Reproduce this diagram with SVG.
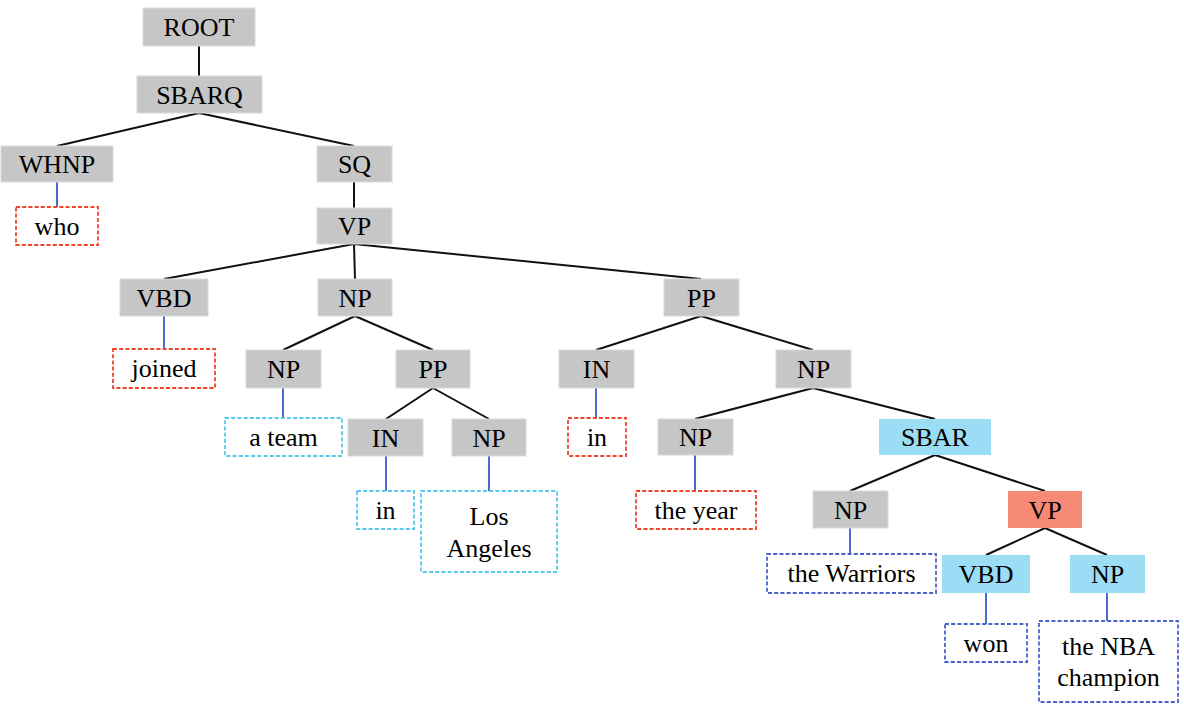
<svg xmlns="http://www.w3.org/2000/svg" width="1184" height="708" viewBox="0 0 1184 708">
<rect width="1184" height="708" fill="#fff"/>
<g id="connectors">
<path stroke="#111" stroke-width="2" fill="none" d="M199 46V76M199 113L57 146M199 113L354 146M354 182V208M354 244L164 279M354 244L355 279M354 244L701 279M355 316L283 350M355 316L433 350M433 388L386 419M433 388L489 419M701 316L596 350M701 316L813 350M813 388L695 419M813 388L935 419M935 455L850 491M935 455L1045 491M1045 528L986 555M1045 528L1107 555"/>
<path stroke="#4A6BD0" stroke-width="2" fill="none" d="M57 182V207M164 316V349M283 388V418M386 456V491M489 456V491M596 388V418M695 455V491M850 528V554M986 593V624M1107 593V621"/>
</g>
<g fill="#C6C6C6" stroke="#DADADA" stroke-width="1">
<rect id="n-root" x="143" y="8" width="112" height="38"/>
<rect id="n-sbarq" x="137" y="76" width="125" height="37"/>
<rect id="n-whnp" x="1" y="146" width="112" height="36"/>
<rect id="n-sq" x="317" y="146" width="75" height="36"/>
<rect id="n-vp" x="317" y="208" width="75" height="36"/>
<rect id="n-vbd" x="120" y="279" width="88" height="37"/>
<rect id="n-np1" x="318" y="279" width="74" height="37"/>
<rect id="n-pp1" x="664" y="279" width="75" height="37"/>
<rect id="n-np2" x="246" y="350" width="75" height="38"/>
<rect id="n-pp2" x="396" y="350" width="74" height="38"/>
<rect id="n-in1" x="348" y="419" width="75" height="37"/>
<rect id="n-np3" x="452" y="419" width="74" height="37"/>
<rect id="n-in2" x="559" y="350" width="75" height="38"/>
<rect id="n-np4" x="776" y="350" width="75" height="38"/>
<rect id="n-np5" x="658" y="419" width="75" height="36"/>
<rect id="n-np6" x="813" y="491" width="75" height="37"/>
</g>
<g fill="#9BDDF5">
<rect id="n-sbar" x="879" y="419" width="112" height="36"/>
<rect id="n-vbd2" x="942" y="555" width="88" height="38"/>
<rect id="n-np7" x="1070" y="555" width="75" height="38"/>
</g>
<rect id="n-vp2" fill="#F68A76" x="1008" y="491" width="74" height="37"/>
<g fill="#fff" stroke-width="1.8" stroke-dasharray="4 2.2">
<g stroke="#F0442A">
<rect id="w-who" x="16" y="207" width="82" height="38"/>
<rect id="w-joined" x="113" y="349" width="102" height="39"/>
<rect id="w-in2" x="568" y="418" width="58" height="38"/>
<rect id="w-year" x="636" y="491" width="120" height="38"/>
</g>
<g stroke="#55C8EE">
<rect id="w-ateam" x="225" y="418" width="117" height="38"/>
<rect id="w-in1" x="357" y="491" width="57" height="38"/>
<rect id="w-la" x="421" y="491" width="136" height="81"/>
</g>
<g stroke="#4A62C8">
<rect id="w-warriors" x="767" y="554" width="169" height="39"/>
<rect id="w-won" x="945" y="624" width="82" height="38"/>
<rect id="w-nba" x="1039" y="621" width="139" height="81"/>
</g>
</g>
<g id="labels" text-anchor="middle">
<text font-family="Times New Roman" font-size="26" x="199" y="36">ROOT</text>
<text font-family="Times New Roman" font-size="26" x="199.5" y="104">SBARQ</text>
<text font-family="Times New Roman" font-size="26" x="57" y="173">WHNP</text>
<text font-family="Times New Roman" font-size="26" x="354.5" y="173">SQ</text>
<text font-family="Times New Roman" font-size="26" x="354.5" y="235">VP</text>
<text font-family="Times New Roman" font-size="26" x="57" y="235">who</text>
<text font-family="Times New Roman" font-size="26" x="164" y="307">VBD</text>
<text font-family="Times New Roman" font-size="26" x="355" y="307">NP</text>
<text font-family="Times New Roman" font-size="26" x="701.5" y="307">PP</text>
<text font-family="Times New Roman" font-size="26" x="164" y="377">joined</text>
<text font-family="Times New Roman" font-size="26" x="283.5" y="378">NP</text>
<text font-family="Times New Roman" font-size="26" x="433" y="378">PP</text>
<text font-family="Times New Roman" font-size="26" x="283.5" y="446">a team</text>
<text font-family="Times New Roman" font-size="26" x="385.5" y="447">IN</text>
<text font-family="Times New Roman" font-size="26" x="489" y="447">NP</text>
<text font-family="Times New Roman" font-size="26" x="385.5" y="519">in</text>
<text font-family="Times New Roman" font-size="26" x="489" y="525">Los</text>
<text font-family="Times New Roman" font-size="26" x="489" y="557">Angeles</text>
<text font-family="Times New Roman" font-size="26" x="596.5" y="378">IN</text>
<text font-family="Times New Roman" font-size="26" x="813.5" y="378">NP</text>
<text font-family="Times New Roman" font-size="26" x="597" y="446">in</text>
<text font-family="Times New Roman" font-size="26" x="695.5" y="446">NP</text>
<text font-family="Times New Roman" font-size="26" x="935" y="446">SBAR</text>
<text font-family="Times New Roman" font-size="26" x="696" y="519">the year</text>
<text font-family="Times New Roman" font-size="26" x="850.5" y="519">NP</text>
<text font-family="Times New Roman" font-size="26" x="1045" y="519">VP</text>
<text font-family="Times New Roman" font-size="26" x="851.5" y="582">the Warriors</text>
<text font-family="Times New Roman" font-size="26" x="986" y="583">VBD</text>
<text font-family="Times New Roman" font-size="26" x="1107.5" y="583">NP</text>
<text font-family="Times New Roman" font-size="26" x="986" y="652">won</text>
<text font-family="Times New Roman" font-size="26" x="1108.5" y="655">the NBA</text>
<text font-family="Times New Roman" font-size="26" x="1108.5" y="686">champion</text>
</g>
</svg>
